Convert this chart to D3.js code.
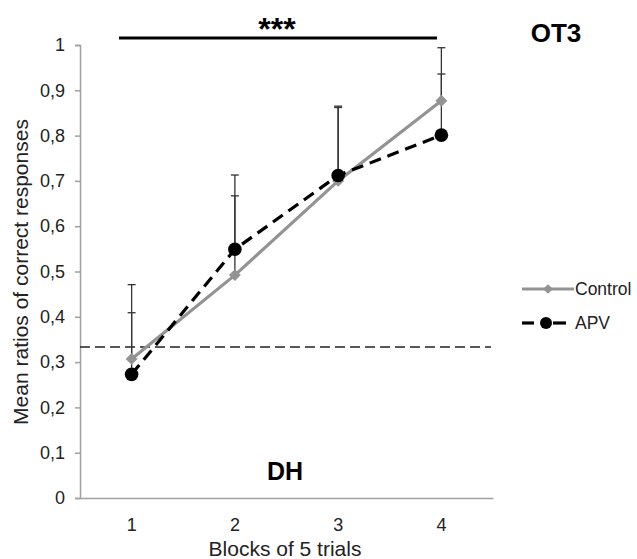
<!DOCTYPE html>
<html>
<head>
<meta charset="utf-8">
<script src="https://cdn.jsdelivr.net/npm/d3@7"></script>
<style>
body { margin: 0; background: #fff; }
text { font-family: "Liberation Sans", Arial, sans-serif; }
</style>
</head>
<body>
<div></div>
<script>
const width = 637;
const height = 559;

const blocks = ['1', '2', '3', '4'];
const controlMean = [0.307, 0.492, 0.700, 0.877];
const controlUpper = [0.409, 0.667, 0.862, 0.936];
const apvMean = [0.273, 0.549, 0.712, 0.801];
const apvUpper = [0.471, 0.713, 0.865, 0.994];
const yTicks = [0, 0.1, 0.2, 0.3, 0.4, 0.5, 0.6, 0.7, 0.8, 0.9, 1];
const chance = 1 / 3;

const svg = d3.select('div').append('svg').attr('width', width).attr('height', height);

const x = d3.scaleBand().domain(blocks).range([80, 493]);
const y = d3.scaleLinear().domain([0, 1]).range([498, 45]);
const cx = d => x(d) + x.bandwidth() / 2;

const fmt = d => d3.format('.1~f')(d).replace('.', ',');
const font = '"Liberation Sans", Arial, sans-serif';

// y axis
const yAxis = svg.append('g').attr('transform', 'translate(80,0)')
    .call(d3.axisLeft(y).tickValues(yTicks).tickFormat(fmt).tickSize(5).tickPadding(10));
yAxis.select('.domain').attr('stroke', '#a0a0a0').attr('stroke-width', 1.5);
yAxis.selectAll('.tick line').attr('stroke', '#a0a0a0').attr('stroke-width', 1.5);
yAxis.selectAll('.tick text').attr('font-size', 18).attr('fill', '#222').attr('font-family', font);

// x axis
const xAxis = svg.append('g').attr('transform', 'translate(0,498)')
    .call(d3.axisBottom(x).tickSize(0).tickPadding(20));
xAxis.select('.domain').attr('stroke', '#a0a0a0').attr('stroke-width', 1.5);
xAxis.selectAll('.tick text').attr('font-size', 18).attr('fill', '#222').attr('font-family', font);

// axis titles
svg.append('text').attr('x', 285).attr('y', 556).attr('text-anchor', 'middle')
    .attr('font-size', 21).attr('fill', '#222').text('Blocks of 5 trials');
svg.append('text').attr('transform', 'translate(28,272) rotate(-90)').attr('text-anchor', 'middle')
    .attr('font-size', 21).attr('fill', '#222').text('Mean ratios of correct responses');

// chance line
svg.append('line').attr('x1', 80).attr('x2', 491).attr('y1', y(chance)).attr('y2', y(chance))
    .attr('stroke', '#222').attr('stroke-width', 1.3).attr('stroke-dasharray', '10,5');

// error bars (upper only)
function errorBars(means, uppers) {
    const g = svg.append('g').attr('stroke', '#333').attr('stroke-width', 1.3);
    blocks.forEach((b, i) => {
        g.append('line').attr('x1', cx(b)).attr('x2', cx(b)).attr('y1', y(means[i])).attr('y2', y(uppers[i]));
        g.append('line').attr('x1', cx(b) - 4).attr('x2', cx(b) + 4).attr('y1', y(uppers[i])).attr('y2', y(uppers[i]));
    });
}
errorBars(controlMean, controlUpper);
errorBars(apvMean, apvUpper);

const line = d3.line().x((d, i) => cx(blocks[i])).y(d => y(d));

// control series
svg.append('path').datum(controlMean).attr('d', line).attr('fill', 'none')
    .attr('stroke', '#939393').attr('stroke-width', 3.2);
svg.selectAll('.ctl').data(controlMean).enter().append('path').attr('class', 'ctl')
    .attr('d', d3.symbol(d3.symbolDiamond2, 90)())
    .attr('transform', (d, i) => 'translate(' + cx(blocks[i]) + ',' + y(d) + ')')
    .attr('fill', '#939393');

// apv series
svg.append('path').datum(apvMean).attr('d', line).attr('fill', 'none')
    .attr('stroke', '#000').attr('stroke-width', 3.2).attr('stroke-dasharray', '12,7');
svg.selectAll('.apv').data(apvMean).enter().append('circle').attr('class', 'apv')
    .attr('cx', (d, i) => cx(blocks[i])).attr('cy', d => y(d)).attr('r', 6.8).attr('fill', '#000');

// significance bar
svg.append('line').attr('x1', 119).attr('x2', 437).attr('y1', 38).attr('y2', 38)
    .attr('stroke', '#000').attr('stroke-width', 3.2);
svg.append('text').attr('x', 277).attr('y', 40).attr('text-anchor', 'middle')
    .attr('font-size', 32).attr('font-weight', 'bold').text('***');

// labels
svg.append('text').attr('x', 556).attr('y', 42).attr('text-anchor', 'middle')
    .attr('font-size', 26).attr('font-weight', 'bold').attr('font-family', '"Open Sans", sans-serif').text('OT3');
svg.append('text').attr('x', 285).attr('y', 480).attr('text-anchor', 'middle')
    .attr('font-size', 25).attr('font-weight', 'bold').attr('font-family', '"Open Sans", sans-serif').text('DH');

// legend
const legend = svg.append('g');
legend.append('line').attr('x1', 522).attr('x2', 574).attr('y1', 289).attr('y2', 289)
    .attr('stroke', '#939393').attr('stroke-width', 3.2);
legend.append('path').attr('d', d3.symbol(d3.symbolDiamond2, 60)())
    .attr('transform', 'translate(548,289)').attr('fill', '#939393');
legend.append('text').attr('x', 575).attr('y', 295).attr('font-size', 17.5).attr('fill', '#222').text('Control');
legend.append('line').attr('x1', 522).attr('x2', 534).attr('y1', 323).attr('y2', 323)
    .attr('stroke', '#000').attr('stroke-width', 3.2);
legend.append('line').attr('x1', 553).attr('x2', 566).attr('y1', 323).attr('y2', 323)
    .attr('stroke', '#000').attr('stroke-width', 3.2);
legend.append('circle').attr('cx', 546).attr('cy', 323).attr('r', 6).attr('fill', '#000');
legend.append('text').attr('x', 575).attr('y', 329).attr('font-size', 17.5).attr('fill', '#222').text('APV');
</script>
</body>
</html>
